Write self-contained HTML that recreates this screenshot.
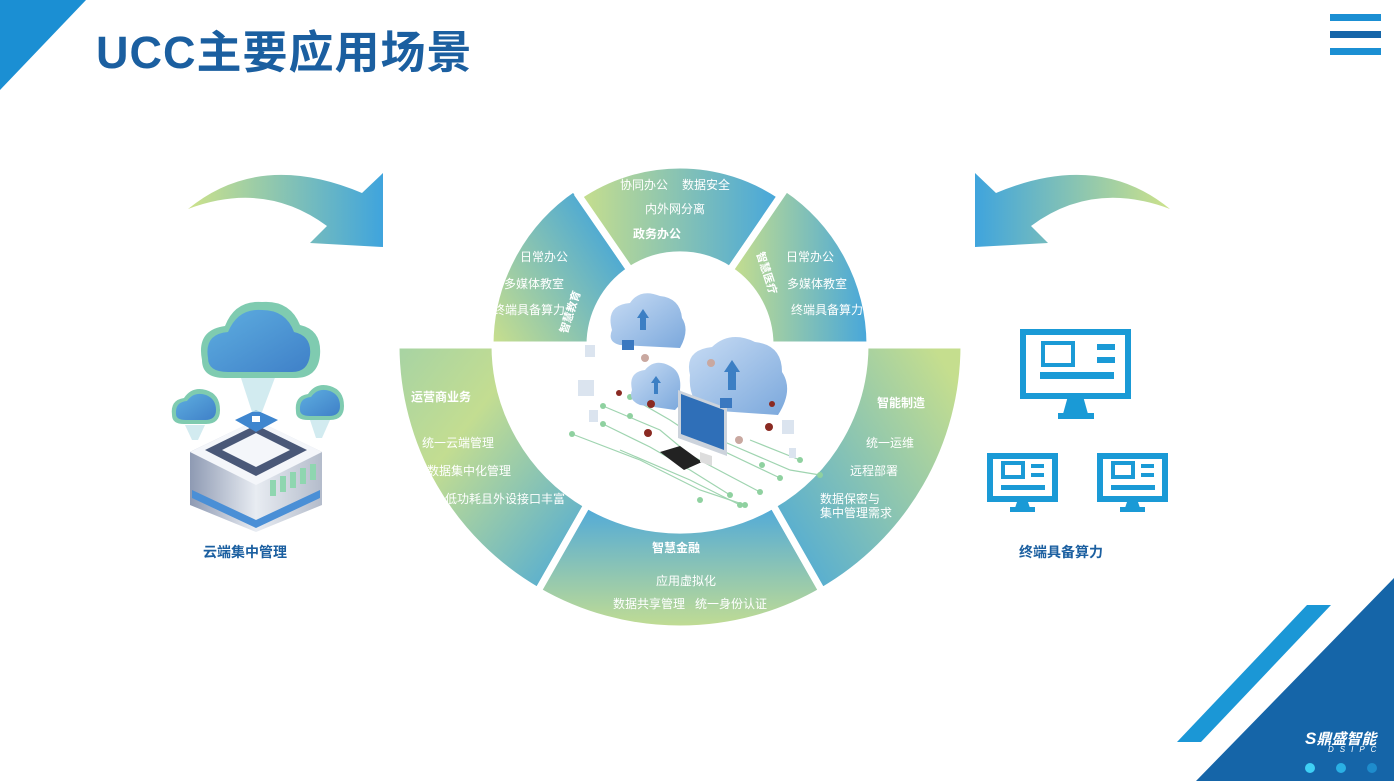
<!DOCTYPE html>
<html><head><meta charset="utf-8">
<style>
html,body{margin:0;padding:0;background:#fff;}
body{width:1394px;height:781px;position:relative;overflow:hidden;font-family:"Liberation Sans","Noto Sans CJK SC",sans-serif;}
svg{position:absolute;left:0;top:0;}
.t{position:absolute;white-space:nowrap;color:#fff;font-size:12px;}
.b{font-weight:bold;}
</style></head><body>
<svg width="1394" height="781" viewBox="0 0 1394 781">
<defs>
<linearGradient id="gH" x1="0" y1="0" x2="1" y2="0"><stop offset="0" stop-color="#c8df8c"/><stop offset="1" stop-color="#45a6dc"/></linearGradient>
<linearGradient id="gUL" x1="0" y1="1" x2="1" y2="0.3"><stop offset="0" stop-color="#cbe08b"/><stop offset="1" stop-color="#3fa3dc"/></linearGradient>
<linearGradient id="gLL" x1="0" y1="0" x2="1" y2="1"><stop offset="0" stop-color="#a6d3a4"/><stop offset="0.35" stop-color="#c3dd91"/><stop offset="1" stop-color="#45a6dc"/></linearGradient>
<linearGradient id="gB" x1="0" y1="0" x2="0" y2="1"><stop offset="0" stop-color="#4fa9da"/><stop offset="1" stop-color="#c3dd92"/></linearGradient>
<linearGradient id="gLR" x1="0" y1="1" x2="1" y2="0.2"><stop offset="0" stop-color="#45a6dc"/><stop offset="1" stop-color="#c5de8e"/></linearGradient>
<linearGradient id="gA" x1="0" y1="0" x2="1" y2="0"><stop offset="0" stop-color="#cde28a"/><stop offset="1" stop-color="#3fa4dd"/></linearGradient>
<linearGradient id="gA2" x1="1" y1="0" x2="0" y2="0"><stop offset="0" stop-color="#cde28a"/><stop offset="1" stop-color="#3fa4dd"/></linearGradient>
<linearGradient id="cl" x1="0" y1="0" x2="1" y2="1"><stop offset="0" stop-color="#5eaee0"/><stop offset="1" stop-color="#3f80c8"/></linearGradient>
<linearGradient id="cl2" x1="0" y1="0" x2="1" y2="1"><stop offset="0" stop-color="#c8dcf4"/><stop offset="1" stop-color="#7ba8dc"/></linearGradient>
<linearGradient id="sv" x1="0" y1="0" x2="1" y2="0"><stop offset="0" stop-color="#8e9ab3"/><stop offset="0.5" stop-color="#e8ecf2"/><stop offset="1" stop-color="#b4bccb"/></linearGradient>
</defs>
<!-- corner decorations -->
<polygon points="0,0 86,0 0,90" fill="#1b8fd3"/>
<rect x="1330" y="14" width="51" height="7" fill="#1b8fd3"/>
<rect x="1330" y="31" width="51" height="7" fill="#1565a8"/>
<rect x="1330" y="48" width="51" height="7" fill="#1b8fd3"/>
<polygon points="1394,578 1394,781 1196,781" fill="#1565a8"/>
<polygon points="1307,605 1331,605 1201,742 1177,742" fill="#1b97d6"/>
<circle cx="1310" cy="768" r="5" fill="#3fd0f5"/>
<circle cx="1341" cy="768" r="5" fill="#2ab0e4"/>
<circle cx="1372" cy="768" r="5" fill="#1e8ccc"/>
<!-- ring -->
<g stroke="#fff" stroke-width="7" stroke-linejoin="miter">
<path d="M490,345 A190,190 0 0 1 574,188 L630,270 A90,90 0 0 0 590,345 Z" fill="url(#gUL)"/>
<path d="M579,196 A180,180 0 0 1 781,196 L730,270 A90,90 0 0 0 630,270 Z" fill="url(#gH)"/>
<path d="M786,188 A190,190 0 0 1 870,345 L770,345 A90,90 0 0 0 730,270 Z" fill="url(#gH)"/>
<path d="M396,345 A284,284 0 0 0 538,591 L587,505 A185,185 0 0 1 495,345 Z" fill="url(#gLL)"/>
<path d="M538,591 A284,284 0 0 0 822,591 L773,505 A185,185 0 0 1 587,505 Z" fill="url(#gB)"/>
<path d="M822,591 A284,284 0 0 0 964,345 L865,345 A185,185 0 0 1 773,505 Z" fill="url(#gLR)"/>
</g>
<circle cx="680" cy="390" r="0" fill="#fff"/>
<!-- center illustration: circuits -->
<g stroke="#9fd4b0" stroke-width="1.2" fill="none">
<path d="M572,434 L640,460 L700,490 L745,505"/>
<path d="M603,406 L660,430 L690,455 L760,492"/>
<path d="M603,424 L650,447 L690,470 L730,495"/>
<path d="M630,397 L670,420 L700,440 L780,478"/>
<path d="M720,440 L790,470 L820,475"/>
<path d="M620,450 L690,480 L740,505"/>
<path d="M750,440 L800,460"/>
</g>
<g fill="#8fd1a0">
<circle cx="572" cy="434" r="3"/><circle cx="603" cy="406" r="3"/><circle cx="603" cy="424" r="3"/><circle cx="630" cy="397" r="3"/><circle cx="630" cy="416" r="3"/><circle cx="745" cy="505" r="3"/><circle cx="760" cy="492" r="3"/><circle cx="730" cy="495" r="3"/><circle cx="780" cy="478" r="3"/><circle cx="820" cy="475" r="3"/><circle cx="740" cy="505" r="3"/><circle cx="700" cy="500" r="3"/><circle cx="762" cy="465" r="3"/><circle cx="800" cy="460" r="3"/>
</g>
<!-- clouds -->
<g>
<path d="M612,330 Q605,305 630,303 Q640,288 660,296 Q680,298 682,318 Q690,330 680,348 L620,345 Q607,342 612,330Z" fill="url(#cl2)"/>
<path d="M632,390 Q628,372 645,370 Q655,358 670,366 Q682,372 680,390 Q684,402 675,410 L640,405 Q628,400 632,390Z" fill="url(#cl2)"/>
<path d="M690,375 Q684,350 712,347 Q730,330 755,342 Q782,345 782,372 Q794,390 778,415 L705,410 Q688,400 690,375Z" fill="url(#cl2)"/>
<polygon points="637,318 643,309 649,318 646,318 646,330 640,330 640,318" fill="#3c7fc4"/>
<polygon points="724,372 732,360 740,372 736,372 736,390 728,390 728,372" fill="#3c7fc4"/>
<polygon points="651,383 656,376 661,383 658,383 658,394 654,394 654,383" fill="#3c7fc4"/>
</g>
<!-- monitor -->
<polygon points="678,390 727,408 727,456 678,438" fill="#ccd3dc"/>
<polygon points="681,394 724,410 724,450 681,434" fill="#2f6fb8"/>
<polygon points="660,452 680,446 702,462 684,470" fill="#222"/>
<polygon points="700,452 712,456 712,466 700,462" fill="#ddd"/>
<g fill="#8a2a22"><circle cx="651" cy="404" r="4"/><circle cx="619" cy="393" r="3"/><circle cx="769" cy="427" r="4"/><circle cx="648" cy="433" r="4"/><circle cx="772" cy="404" r="3"/></g>
<g fill="#c9a8a0"><circle cx="645" cy="358" r="4"/><circle cx="711" cy="363" r="4"/><circle cx="739" cy="440" r="4"/></g>
<g fill="#dbe4ef"><rect x="585" y="345" width="10" height="12"/><rect x="578" y="380" width="16" height="16"/><rect x="589" y="410" width="9" height="12"/><rect x="782" y="420" width="12" height="14"/><rect x="789" y="448" width="7" height="10"/></g>
<rect x="622" y="340" width="12" height="10" fill="#3a78c0"/>
<rect x="720" y="398" width="12" height="10" fill="#3a78c0"/>
<!-- arrows -->
<path d="M188,209 Q260,150 362,193 L383,173 L383,247 L310,243 L327,226 Q265,180 188,209Z" fill="url(#gA)"/>
<path d="M1170,209 Q1098,150 996,193 L975,173 L975,247 L1048,243 L1031,226 Q1093,180 1170,209Z" fill="url(#gA2)"/>
<!-- left illustration: server -->
<polygon points="190,452 256,420 322,452 322,505 256,532 190,505" fill="url(#sv)"/>
<polygon points="190,452 256,420 322,452 256,485" fill="#f4f6fa"/>
<polygon points="205,450 256,425 307,450 256,476" fill="#4a5878"/>
<polygon points="222,450 256,433 290,450 256,467" fill="#f4f6fa"/>
<polygon points="192,490 256,520 320,490 320,498 256,528 192,498" fill="#4a8fd6"/>
<g fill="#8fd6b0"><rect x="270" y="480" width="6" height="16"/><rect x="280" y="476" width="6" height="16"/><rect x="290" y="472" width="6" height="16"/><rect x="300" y="468" width="6" height="16"/><rect x="310" y="464" width="6" height="16"/></g>
<polygon points="235,420 256,410 278,420 256,432" fill="#3f86cf"/>
<rect x="252" y="416" width="8" height="6" fill="#fff"/>
<polygon points="240,375 276,375 262,412 252,412" fill="#bfe3ea" opacity="0.7"/>
<polygon points="185,425 205,425 198,440 192,440" fill="#bfe3ea" opacity="0.7"/>
<polygon points="310,420 330,420 322,438 316,438" fill="#bfe3ea" opacity="0.7"/>
<path d="M202,360 Q196,330 225,326 Q235,300 262,302 Q290,300 300,325 Q322,330 320,355 Q318,378 295,378 L225,378 Q202,378 202,360Z" fill="#7fcbb0"/>
<path d="M208,358 Q204,334 228,332 Q238,308 262,310 Q286,310 294,332 Q312,336 310,355 Q308,372 292,372 L228,372 Q208,372 208,358Z" fill="url(#cl)"/>
<path d="M172,415 Q170,400 184,398 Q192,386 206,390 Q220,394 220,410 Q220,424 206,424 L184,424 Q172,424 172,415Z" fill="#7fcbb0"/>
<path d="M176,414 Q175,402 187,401 Q194,391 206,395 Q216,399 216,410 Q216,420 205,420 L186,420 Q176,420 176,414Z" fill="url(#cl)"/>
<path d="M296,412 Q294,396 308,394 Q316,382 330,386 Q344,390 344,406 Q344,420 330,420 L308,420 Q296,420 296,412Z" fill="#7fcbb0"/>
<path d="M300,410 Q299,398 311,397 Q318,387 330,391 Q340,395 340,406 Q340,416 329,416 L310,416 Q300,416 300,410Z" fill="url(#cl)"/>
<!-- right monitors -->
<g fill="none" stroke="#1a9ad6" stroke-width="6">
<rect x="1023" y="332" width="105" height="64"/>
<rect x="990" y="456" width="65" height="43"/>
<rect x="1100" y="456" width="65" height="43"/>
</g>
<g fill="#1a9ad6">
<polygon points="1068,396 1083,396 1088,414 1063,414"/><rect x="1058" y="413" width="36" height="6"/>
<polygon points="1018,499 1027,499 1030,508 1015,508"/><rect x="1010" y="507" width="25" height="5"/>
<polygon points="1128,499 1137,499 1140,508 1125,508"/><rect x="1120" y="507" width="25" height="5"/>
<rect x="1040" y="372" width="74" height="7"/><rect x="1097" y="344" width="18" height="6"/><rect x="1097" y="357" width="18" height="6"/>
<rect x="1001" y="485" width="44" height="5"/><rect x="1031" y="464" width="13" height="4"/><rect x="1031" y="473" width="13" height="4"/>
<rect x="1111" y="485" width="44" height="5"/><rect x="1141" y="464" width="13" height="4"/><rect x="1141" y="473" width="13" height="4"/>
</g>
<g fill="none" stroke="#1a9ad6" stroke-width="4">
<rect x="1043" y="343" width="30" height="22"/>
<rect x="1003" y="463" width="20" height="14"/>
<rect x="1113" y="463" width="20" height="14"/>
</g>
</svg>

<div style="position:absolute;left:96px;top:16px;font-size:45px;font-weight:bold;color:#1b5fa0;letter-spacing:1px;">UCC主要应用场景</div>

<div class="t" style="left:620px;top:176px;">协同办公</div>
<div class="t" style="left:682px;top:176px;">数据安全</div>
<div class="t" style="left:645px;top:200px;">内外网分离</div>
<div class="t b" style="left:633px;top:225px;">政务办公</div>

<div class="t" style="left:520px;top:248px;">日常办公</div>
<div class="t" style="left:504px;top:275px;">多媒体教室</div>
<div class="t" style="left:493px;top:301px;">终端具备算力</div>
<div class="t b" style="left:548px;top:304px;font-size:11px;transform:rotate(-72deg);">智慧教育</div>

<div class="t" style="left:786px;top:248px;">日常办公</div>
<div class="t" style="left:787px;top:275px;">多媒体教室</div>
<div class="t" style="left:791px;top:301px;">终端具备算力</div>
<div class="t b" style="left:745px;top:265px;font-size:11px;transform:rotate(72deg);">智慧医疗</div>

<div class="t b" style="left:411px;top:388px;">运营商业务</div>
<div class="t" style="left:422px;top:434px;">统一云端管理</div>
<div class="t" style="left:427px;top:462px;">数据集中化管理</div>
<div class="t" style="left:445px;top:490px;">低功耗且外设接口丰富</div>

<div class="t b" style="left:877px;top:394px;">智能制造</div>
<div class="t" style="left:866px;top:434px;">统一运维</div>
<div class="t" style="left:850px;top:462px;">远程部署</div>
<div class="t" style="left:820px;top:490px;">数据保密与</div>
<div class="t" style="left:820px;top:504px;">集中管理需求</div>

<div class="t b" style="left:652px;top:539px;">智慧金融</div>
<div class="t" style="left:656px;top:572px;">应用虚拟化</div>
<div class="t" style="left:613px;top:595px;">数据共享管理</div>
<div class="t" style="left:695px;top:595px;">统一身份认证</div>

<div style="position:absolute;left:203px;top:542px;font-size:14px;font-weight:bold;color:#1b5fa0;">云端集中管理</div>
<div style="position:absolute;left:1019px;top:542px;font-size:14px;font-weight:bold;color:#1b5fa0;">终端具备算力</div>

<div style="position:absolute;left:1305px;top:728px;color:#fff;font-weight:bold;font-size:15px;font-style:italic;"><span style="font-size:17px;">S</span>鼎盛智能</div>
<div style="position:absolute;left:1328px;top:745px;color:#fff;font-size:8px;letter-spacing:6px;font-style:italic;">DSIPC</div>
</body></html>
